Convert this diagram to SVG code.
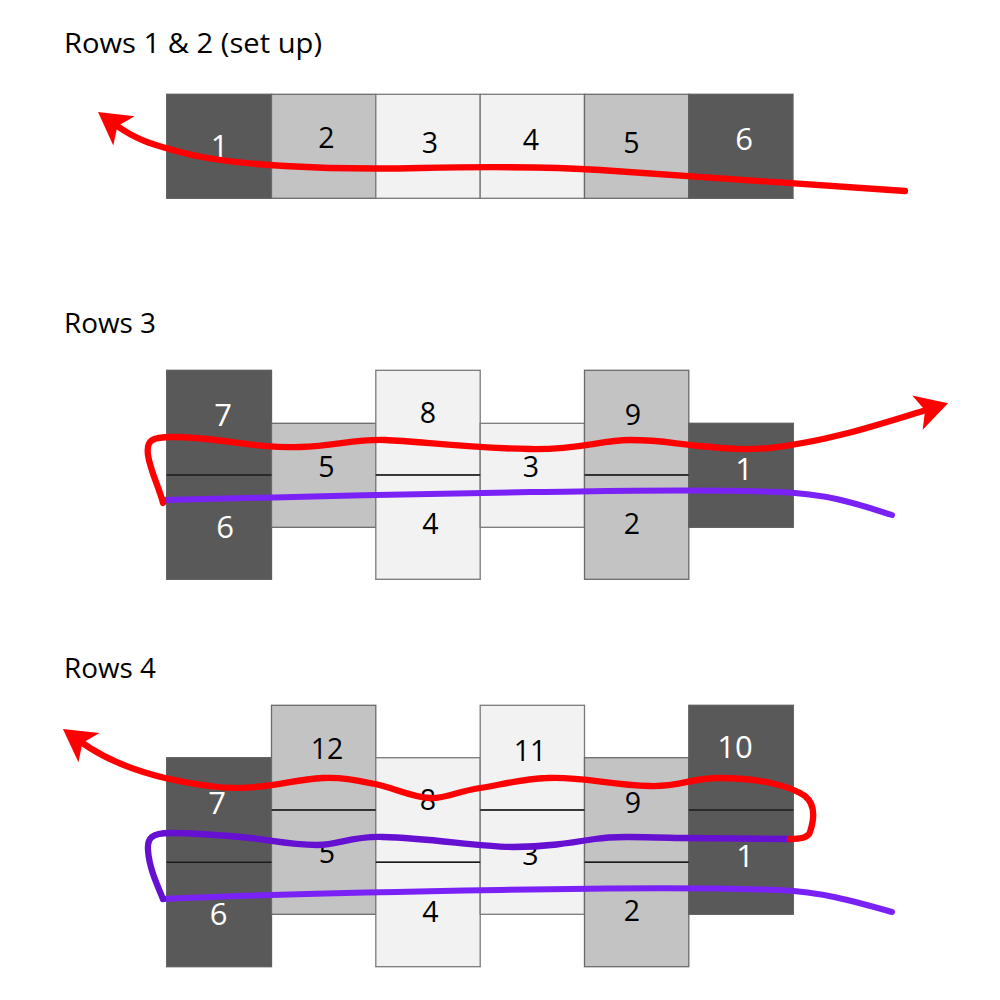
<svg xmlns="http://www.w3.org/2000/svg" width="1000" height="1000" viewBox="0 0 1000 1000">
<defs>
<style>
.title{font-family:"Open Sans","Liberation Sans",sans-serif;font-size:27.5px;fill:#000}
.dark{fill:#595959;stroke:#5e5e5e;stroke-width:1.3}
.mid{fill:#c3c3c3;stroke:#6a6a6a;stroke-width:1.3}
.light{fill:#f2f2f2;stroke:#7a7a7a;stroke-width:1.3}
.div{stroke:#1a1a1a;stroke-width:1.4}
.lb{font-family:"Open Sans","Liberation Sans",sans-serif;font-size:28.5px;fill:#000;text-anchor:middle}
.lw{font-family:"Open Sans","Liberation Sans",sans-serif;font-size:31px;fill:#fff;text-anchor:middle}
.red{fill:none;stroke:#ff0000;stroke-width:6.3;stroke-linecap:round;stroke-linejoin:round}
.pur{fill:none;stroke:#7a22f6;stroke-width:6;stroke-linecap:round;stroke-linejoin:round}
.dpur{fill:none;stroke:#6610d2;stroke-width:6.3;stroke-linecap:round;stroke-linejoin:round}
</style>
<marker id="arr" markerUnits="userSpaceOnUse" markerWidth="40" markerHeight="40" viewBox="0 -20 36 40" refX="10" refY="0" orient="auto">
<path d="M32,0 L0,-18 L8,0 L0,18 Z" fill="#ff0000"/>
</marker>
</defs>
<rect width="1000" height="1000" fill="#fff"/>

<text class="title" x="64" y="53" textLength="258" lengthAdjust="spacingAndGlyphs">Rows 1 &amp; 2 (set up)</text>
<text class="title" x="64" y="333" textLength="92" lengthAdjust="spacingAndGlyphs">Rows 3</text>
<text class="title" x="64" y="678" textLength="92" lengthAdjust="spacingAndGlyphs">Rows 4</text>

<!-- Section 1 -->
<g id="s1-b1"><rect class="dark" x="166.7" y="94.3" width="104.8" height="104"/><text class="lw" x="219.5" y="157">1</text></g>
<g id="s1-b2"><rect class="mid" x="271.5" y="94.3" width="104.3" height="104"/><text class="lb" x="326.5" y="148">2</text></g>
<g id="s1-b3"><rect class="light" x="375.8" y="94.3" width="104.4" height="104"/><text class="lb" x="430" y="153">3</text></g>
<g id="s1-b4"><rect class="light" x="480.2" y="94.3" width="104.3" height="104"/><text class="lb" x="531" y="150">4</text></g>
<g id="s1-b5"><rect class="mid" x="584.5" y="94.3" width="104.3" height="104"/><text class="lb" x="631.5" y="153">5</text></g>
<g id="s1-b6"><rect class="dark" x="688.8" y="94.3" width="104.2" height="104"/><text class="lw" x="744" y="150">6</text></g>

<!-- Section 2 -->
<g id="s2-b7"><rect class="dark" x="166.7" y="370.3" width="104.8" height="104.7"/><text class="lw" x="223" y="426">7</text></g>
<g id="s2-b6"><rect class="dark" x="166.7" y="475" width="104.8" height="104.3"/><text class="lw" x="225" y="538">6</text></g>
<g id="s2-b5"><rect class="mid" x="271.5" y="423.3" width="104.3" height="104"/><text class="lb" x="326.5" y="477">5</text></g>
<g id="s2-b8"><rect class="light" x="375.8" y="370.3" width="104.4" height="104.7"/><text class="lb" x="428" y="423">8</text></g>
<g id="s2-b4"><rect class="light" x="375.8" y="475" width="104.4" height="104.3"/><text class="lb" x="430.5" y="534">4</text></g>
<g id="s2-b3"><rect class="light" x="480.2" y="423.3" width="104.3" height="104"/><text class="lb" x="531" y="477">3</text></g>
<g id="s2-b9"><rect class="mid" x="584.5" y="370.3" width="104.3" height="104.7"/><text class="lb" x="633" y="425">9</text></g>
<g id="s2-b2"><rect class="mid" x="584.5" y="475" width="104.3" height="104.3"/><text class="lb" x="632" y="534">2</text></g>
<g id="s2-b1"><rect class="dark" x="688.8" y="423.3" width="104.5" height="104"/><text class="lw" x="744" y="480">1</text></g>
<g id="s2-dividers">
<line class="div" x1="166.7" y1="475" x2="271.5" y2="475"/>
<line class="div" x1="375.8" y1="475" x2="480.2" y2="475"/>
<line class="div" x1="584.5" y1="475" x2="688.8" y2="475"/>
</g>

<!-- Section 3 -->
<g id="s3-b7"><rect class="dark" x="166.7" y="757.7" width="104.8" height="104.6"/><text class="lw" x="217" y="814">7</text></g>
<g id="s3-b6"><rect class="dark" x="166.7" y="862.3" width="104.8" height="104.4"/><text class="lw" x="218.5" y="925">6</text></g>
<g id="s3-b12"><rect class="mid" x="271.5" y="705.3" width="104.3" height="104.7"/><text class="lb" x="327" y="759">12</text></g>
<g id="s3-b5"><rect class="mid" x="271.5" y="810" width="104.3" height="104.3"/><text class="lb" x="327" y="863">5</text></g>
<g id="s3-b8"><rect class="light" x="375.8" y="757.7" width="104.4" height="104.6"/><text class="lb" x="428" y="810">8</text></g>
<g id="s3-b4"><rect class="light" x="375.8" y="862.3" width="104.4" height="104.4"/><text class="lb" x="430.5" y="922">4</text></g>
<g id="s3-b11"><rect class="light" x="480.2" y="705.3" width="104.3" height="104.7"/><text class="lb" x="530" y="761">11</text></g>
<g id="s3-b3"><rect class="light" x="480.2" y="810" width="104.3" height="104.3"/><text class="lb" x="530.5" y="865">3</text></g>
<g id="s3-b9"><rect class="mid" x="584.5" y="757.7" width="104.3" height="104.6"/><text class="lb" x="633" y="813">9</text></g>
<g id="s3-b2"><rect class="mid" x="584.5" y="862.3" width="104.3" height="104.4"/><text class="lb" x="632" y="921">2</text></g>
<g id="s3-b10"><rect class="dark" x="688.8" y="705.3" width="104.5" height="104.7"/><text class="lw" x="735" y="758">10</text></g>
<g id="s3-b1"><rect class="dark" x="688.8" y="810" width="104.5" height="104.3"/><text class="lw" x="745" y="867">1</text></g>
<g id="s3-dividers">
<line class="div" x1="166.7" y1="862.3" x2="271.5" y2="862.3"/>
<line class="div" x1="271.5" y1="810" x2="375.8" y2="810"/>
<line class="div" x1="375.8" y1="862.3" x2="480.2" y2="862.3"/>
<line class="div" x1="480.2" y1="810" x2="584.5" y2="810"/>
<line class="div" x1="584.5" y1="862.3" x2="688.8" y2="862.3"/>
<line class="div" x1="688.8" y1="810" x2="793.3" y2="810"/>
</g>

<g id="connectors">
<path class="red" marker-end="url(#arr)" d="M905,191 C 800,184 700,176 600,170 C 540,166 470,167 420,168 C 330,170 230,166 180,152 C 160,146 140,142.7 115.8,125"/>
<path class="pur" d="M165,500 C 300,497 400,494 530,492 C 620,491 700,489 780,492 C 830,494 860,505 892,515"/>
<path class="red" marker-end="url(#arr)" d="M163,503 C 160,490 150,470 148,455 C 146,440 152,437 172,437 C 220,437 255,449 300,447 C 335,446 355,439 385,440 C 420,441 460,448 530,449 C 580,450 600,440 630,440 C 660,440 670,443 700,446 C 730,449 745,450 770,448 C 830,441 880,424 927,409.7"/>
<path class="pur" d="M163,899 C 250,895 380,892 500,890 C 600,888 700,887 780,890 C 820,892 850,900 892,912"/>
<path class="dpur" d="M790,839 L 680,838 C 640,837 615,836 595,839 C 570,843 545,847 513,847 C 480,847 430,838 383,837 C 350,836 340,845 317,845 C 290,845 270,840 250,838 C 220,835 195,833 170,833 C 152,833 147,838 148,850 C 149,866 155,880 163,899"/>
<path class="red" marker-end="url(#arr)" d="M790,839 C 800,839 808,838 810,832 C 814,820 816,805 805,796 C 790,786 760,778 720,778 C 690,778 680,787 650,786 C 610,785 580,776 547,778 C 520,779 500,785 480,788 C 455,792 445,799 430,798 C 410,797 395,788 375,784 C 355,780 340,777 323,778 C 300,779 285,784 265,786 C 245,788 230,789 210,786 C 170,781 120,770 80.8,741.9"/>
</g>
</svg>
